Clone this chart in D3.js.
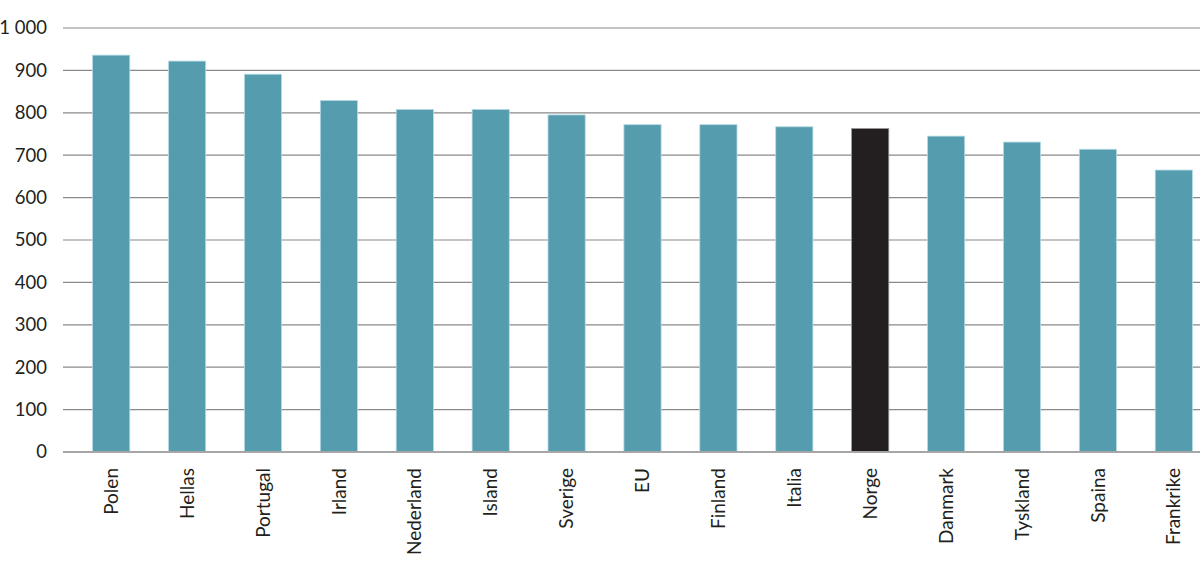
<!DOCTYPE html>
<html>
<head>
<meta charset="utf-8">
<script src="https://cdn.jsdelivr.net/npm/d3@7"></script>
<style>
  body { margin: 0; background: #fff; }
  svg { display: block; font-family: Lato, "Open Sans", sans-serif; }
</style>
</head>
<body>
<svg width="1200" height="575"></svg>
<script>
const countries = ["Polen", "Hellas", "Portugal", "Irland", "Nederland", "Island", "Sverige", "EU",
  "Finland", "Italia", "Norge", "Danmark", "Tyskland", "Spaina", "Frankrike"];
const values = [936, 922, 891, 829, 808, 808, 795, 772, 772, 767, 763, 745, 731, 714, 665];
const yTicks = [0, 100, 200, 300, 400, 500, 600, 700, 800, 900, 1000];
const highlight = "Norge";

const svg = d3.select("svg");
const margin = { top: 28, left: 63, bottom: 452 };
const plotRight = 1222;

const x = d3.scaleBand()
  .domain(countries)
  .range([margin.left, plotRight])
  .paddingInner(0.51)
  .paddingOuter(0.39);

const y = d3.scaleLinear()
  .domain([0, 1000])
  .range([margin.bottom, margin.top]);

const fmt = d => d3.format(",")(d).replace(",", " ");

// gridlines
svg.append("g")
  .selectAll("line")
  .data(yTicks.filter(d => d > 0))
  .enter()
  .append("line")
  .attr("x1", margin.left)
  .attr("x2", plotRight)
  .attr("y1", d => y(d))
  .attr("y2", d => y(d))
  .attr("stroke", "#8a8a8a")
  .attr("stroke-width", 1.2);

// y labels
svg.append("g")
  .selectAll("text")
  .data(yTicks)
  .enter()
  .append("text")
  .attr("x", 47)
  .attr("y", d => y(d))
  .attr("dy", "0.35em")
  .attr("text-anchor", "end")
  .attr("font-size", 18.5)
  .attr("fill", "#231f20")
  .text(fmt);

// bars
svg.append("g")
  .selectAll("rect")
  .data(values)
  .enter()
  .append("rect")
  .attr("x", (d, i) => x(countries[i]))
  .attr("width", x.bandwidth())
  .attr("y", d => y(d))
  .attr("height", d => y(0) - y(d))
  .attr("fill", (d, i) => countries[i] === highlight ? "#231f20" : "#559cae")
  .attr("stroke", (d, i) => countries[i] === highlight ? "#9a9a9a" : "#b5dbe4")
  .attr("stroke-width", 0.8);

// zero line
svg.append("line")
  .attr("x1", margin.left)
  .attr("x2", plotRight)
  .attr("y1", y(0))
  .attr("y2", y(0))
  .attr("stroke", "#a6a6a6")
  .attr("stroke-width", 1.8);

// x labels
svg.append("g")
  .selectAll("text")
  .data(countries)
  .enter()
  .append("text")
  .attr("transform", d => `translate(${x(d) + x.bandwidth() / 2}, ${y(0) + 16}) rotate(-90)`)
  .attr("dy", "0.35em")
  .attr("text-anchor", "end")
  .attr("font-size", 19)
  .attr("fill", "#231f20")
  .text(d => d);
</script>
</body>
</html>
